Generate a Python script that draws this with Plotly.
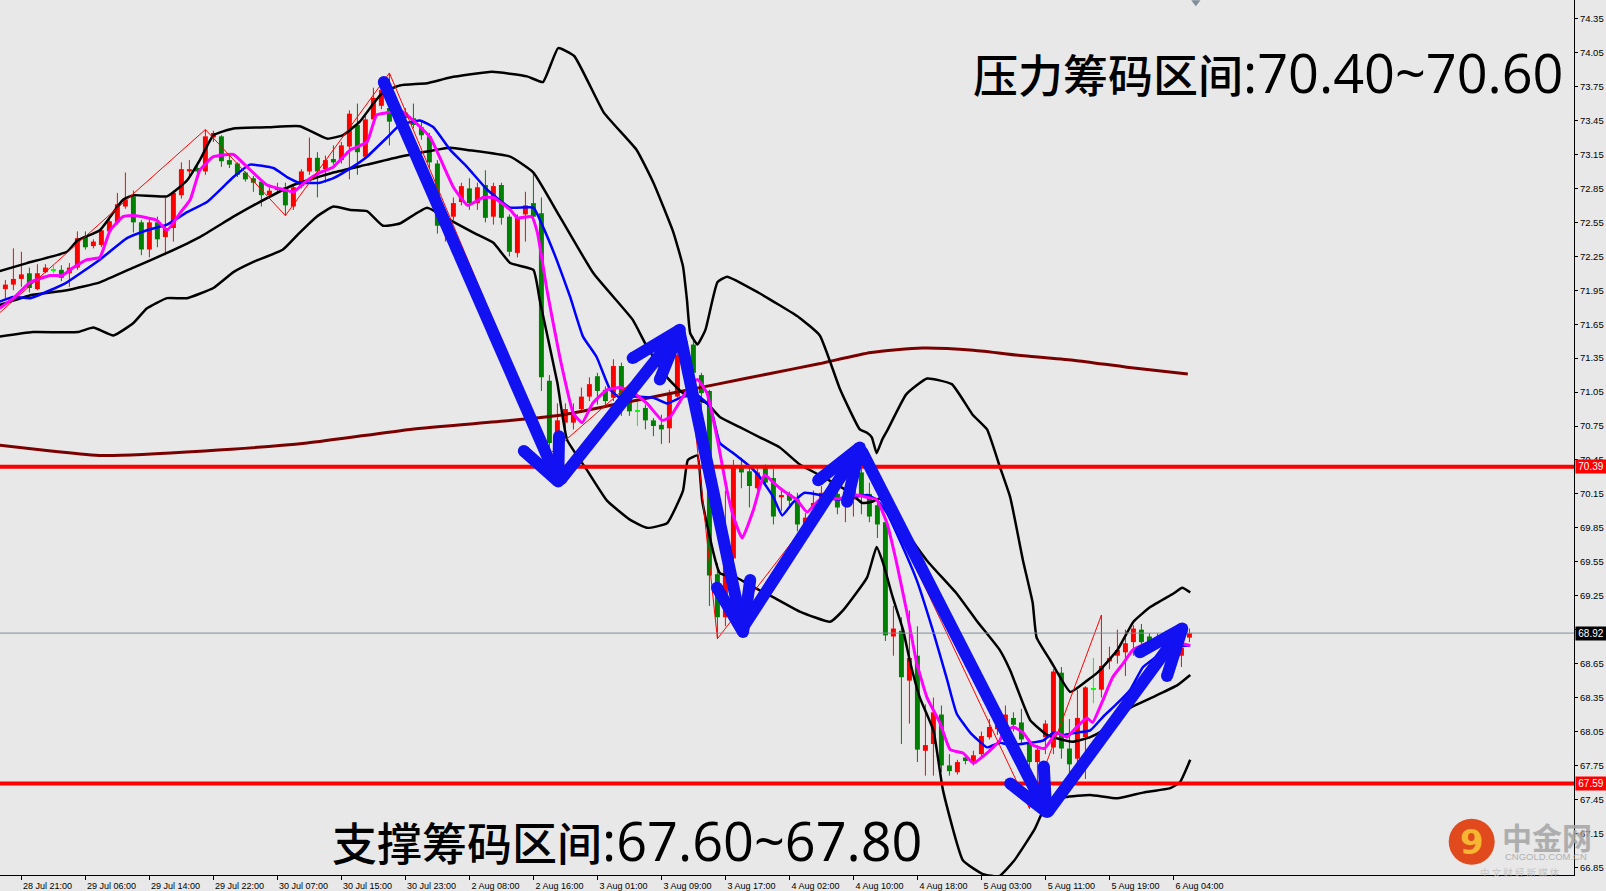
import plotly.graph_objects as go

# H1 bars, index 0 = 28 Jul 19:00 (weekend / daily gaps removed like MT4)
opens = [71.96, 72.00, 72.05, 72.10, 71.96, 72.11, 72.13, 72.13, 72.10, 72.15,
         72.42, 72.34, 72.35, 72.47, 72.55, 72.69, 72.78, 72.55, 72.31, 72.55,
         72.42, 72.50, 72.79, 73.00, 73.03, 73.00, 73.30, 73.31, 73.10, 73.07,
         72.99, 72.94, 72.91, 72.79, 72.84, 72.86, 72.69, 72.87, 73.00, 73.12,
         73.02, 73.11, 73.10, 73.22, 73.41, 73.13, 73.46, 73.58, 73.56, 73.44,
         73.52, 73.47, 73.39, 73.31, 73.07, 72.50, 72.60, 72.73, 72.85, 72.72,
         72.88, 72.60, 72.88, 72.60, 72.28, 72.62, 72.72, 72.63, 71.15, 70.62,
         70.78, 70.78, 70.90, 71.01, 71.19, 71.07, 71.00, 71.28, 70.98, 70.88,
         70.91, 70.80, 70.76, 70.73, 71.01, 71.38, 71.47, 71.20, 71.06, 69.44,
         69.06, 69.58, 70.40, 70.35, 70.20, 70.38, 70.29, 70.12, 70.15, 70.10,
         69.88, 70.02, 70.10, 70.16, 70.15, 70.09, 70.10, 70.34, 70.15, 70.05,
         69.90, 68.89, 68.94, 68.50, 68.72, 67.88, 67.94, 68.20, 67.75, 67.69,
         67.82, 67.79, 67.85, 68.00, 68.07, 68.07, 68.17, 68.13, 67.94, 67.78,
         68.00, 67.91, 68.57, 67.90, 67.81, 68.00, 68.43, 68.42, 68.67, 68.72,
         68.75, 68.84, 68.95, 68.89, 68.84, 68.87, 68.90, 68.72, 68.88]
highs = [72.04, 72.32, 72.29, 72.15, 72.18, 72.18, 72.17, 72.17, 72.19, 72.47,
         72.47, 72.40, 72.50, 72.59, 72.81, 72.99, 72.83, 72.57, 72.58, 72.60,
         72.77, 72.83, 73.08, 73.10, 73.05, 73.37, 73.36, 73.32, 73.14, 73.08,
         73.00, 72.96, 72.93, 72.86, 72.90, 72.90, 72.88, 73.02, 73.30, 73.17,
         73.14, 73.23, 73.26, 73.54, 73.60, 73.49, 73.74, 73.80, 73.87, 73.58,
         73.56, 73.60, 73.45, 73.34, 73.10, 72.62, 72.77, 72.90, 72.94, 72.90,
         73.01, 72.90, 72.90, 72.62, 72.62, 72.82, 72.99, 72.77, 71.20, 70.95,
         70.95, 70.95, 71.09, 71.18, 71.22, 71.10, 71.34, 71.31, 71.00, 70.97,
         70.94, 70.82, 70.85, 71.07, 71.50, 71.55, 71.54, 71.22, 71.07, 69.54,
         70.18, 70.45, 70.47, 70.38, 70.40, 70.41, 70.37, 70.18, 70.17, 70.16,
         69.98, 70.18, 70.22, 70.25, 70.17, 70.16, 70.36, 70.52, 70.25, 70.10,
         69.93, 69.16, 69.06, 69.12, 68.98, 68.29, 68.35, 68.28, 67.85, 67.80,
         67.85, 67.88, 68.05, 68.16, 68.15, 68.28, 68.22, 68.25, 67.98, 67.93,
         68.15, 68.60, 68.62, 68.16, 68.42, 68.45, 68.70, 69.08, 68.80, 68.95,
         68.95, 68.99, 69.00, 68.92, 68.92, 68.94, 68.93, 68.85, 68.96]
lows = [71.88, 71.95, 71.98, 71.93, 71.95, 72.10, 72.10, 72.03, 71.98, 72.13,
        72.31, 72.32, 72.33, 72.45, 72.53, 72.67, 72.46, 72.26, 72.24, 72.33,
        72.26, 72.38, 72.76, 72.96, 72.98, 72.97, 73.26, 73.04, 73.03, 72.95,
        72.91, 72.82, 72.69, 72.76, 72.80, 72.61, 72.66, 72.85, 72.97, 72.77,
        72.90, 73.06, 73.07, 72.93, 72.97, 73.11, 73.44, 73.55, 73.23, 73.38,
        73.40, 73.38, 73.28, 73.02, 72.45, 72.38, 72.57, 72.70, 72.66, 72.66,
        72.55, 72.53, 72.53, 72.25, 72.24, 72.38, 72.55, 71.06, 70.50, 70.55,
        70.70, 70.72, 70.87, 70.97, 70.94, 70.92, 70.97, 70.84, 70.84, 70.75,
        70.72, 70.66, 70.59, 70.60, 71.00, 71.30, 71.16, 70.90, 69.16, 68.87,
        68.98, 69.50, 70.20, 70.03, 70.18, 70.23, 69.88, 70.00, 70.05, 69.82,
        69.85, 69.98, 70.04, 70.08, 69.97, 69.90, 69.95, 69.97, 69.90, 69.76,
        68.85, 68.72, 67.94, 68.12, 67.78, 67.66, 67.66, 67.69, 67.66, 67.67,
        67.76, 67.75, 67.82, 67.98, 68.02, 68.05, 68.05, 67.95, 67.37, 67.55,
        67.85, 67.85, 67.81, 67.54, 67.75, 67.63, 68.30, 68.35, 68.60, 68.65,
        68.54, 68.72, 68.80, 68.80, 68.78, 68.80, 68.70, 68.62, 68.84]
closes = [72.00, 72.05, 72.09, 71.97, 72.10, 72.15, 72.13, 72.06, 72.15, 72.41,
          72.33, 72.38, 72.48, 72.56, 72.71, 72.75, 72.55, 72.31, 72.55, 72.40,
          72.50, 72.81, 73.02, 73.02, 73.00, 73.31, 73.34, 73.09, 73.06, 72.97,
          72.93, 72.90, 72.79, 72.83, 72.85, 72.70, 72.86, 73.00, 73.12, 73.00,
          73.10, 73.08, 73.23, 73.51, 73.17, 73.46, 73.65, 73.72, 73.44, 73.52,
          73.47, 73.41, 73.32, 73.08, 72.52, 72.56, 72.72, 72.87, 72.72, 72.86,
          72.59, 72.87, 72.59, 72.29, 72.59, 72.70, 72.60, 71.18, 70.60, 70.80,
          70.90, 70.85, 71.01, 71.12, 71.06, 70.97, 71.28, 70.94, 70.88, 70.88,
          70.80, 70.75, 70.72, 71.03, 71.38, 71.50, 71.22, 71.04, 69.43, 69.06,
          69.60, 70.40, 70.34, 70.22, 70.34, 70.25, 69.95, 70.14, 70.09, 69.88,
          69.94, 70.07, 70.16, 70.12, 70.03, 70.14, 70.32, 70.13, 69.95, 69.88,
          68.90, 68.96, 68.53, 68.70, 67.89, 67.93, 68.22, 67.75, 67.70, 67.78,
          67.79, 67.84, 68.01, 68.09, 68.13, 68.20, 68.11, 67.98, 67.78, 67.89,
          68.12, 68.58, 67.90, 67.76, 68.17, 68.44, 68.43, 68.63, 68.70, 68.77,
          68.83, 68.96, 68.84, 68.84, 68.87, 68.90, 68.76, 68.79, 68.92]

tick_idx = [2, 10, 18, 26, 34, 42, 50, 58, 66, 74, 82, 90, 98, 106, 114, 122, 130, 138, 146]
tick_text = ['28 Jul 21:00', '29 Jul 06:00', '29 Jul 14:00', '29 Jul 22:00', '30 Jul 07:00',
             '30 Jul 15:00', '30 Jul 23:00', '2 Aug 08:00', '2 Aug 16:00', '3 Aug 01:00',
             '3 Aug 09:00', '3 Aug 17:00', '4 Aug 02:00', '4 Aug 10:00', '4 Aug 18:00',
             '5 Aug 03:00', '5 Aug 11:00', '5 Aug 19:00', '6 Aug 04:00']

# bollinger bands
bb_up_x = [-0.7, 2.7, 7.7, 9.0, 11.8, 14.7, 16.0, 20.2, 22.7, 24.3, 26.0, 28.5, 32.7, 36.8,
           40.2, 42.2, 44.3, 46.0, 47.2, 49.3, 52.7, 55.6, 60.8, 65.2, 67.2, 69.1, 71.1,
           74.8, 78.9, 81.0, 83.5, 84.7, 85.2, 85.6, 86.5, 87.5, 89.0, 90.2, 94.1, 99.2,
           101.8, 104.3, 106.8, 107.7, 108.3, 108.9, 109.6, 110.3, 112.6, 115.2, 118.3,
           120.9, 122.7, 124.3, 125.6, 127.2, 128.4, 128.9, 130.6, 133.1, 135.2, 136.5,
           139.0, 141.0, 143.1, 146.0, 147.1, 148.1]
bb_up_y = [72.12, 72.19, 72.29, 72.39, 72.48, 72.75, 72.79, 72.78, 72.92, 73.10, 73.32, 73.38,
           73.39, 73.40, 73.29, 73.32, 73.44, 73.60, 73.70, 73.76, 73.78, 73.83, 73.88, 73.84,
           73.79, 74.09, 74.02, 73.52, 73.19, 72.90, 72.46, 72.16, 71.86, 71.57, 71.47, 71.60,
           72.02, 72.07, 71.93, 71.71, 71.55, 71.08, 70.72, 70.69, 70.65, 70.51, 70.63, 70.72,
           71.03, 71.17, 71.12, 70.85, 70.72, 70.39, 70.12, 69.56, 69.19, 68.88, 68.68, 68.40,
           68.50, 68.57, 68.77, 69.02, 69.15, 69.27, 69.32, 69.28]
bb_mid_x = [-0.7, 3.4, 7.7, 11.8, 16.0, 20.2, 24.3, 28.5, 31.0, 36.0, 41.0, 45.2, 49.3, 55.6,
            57.7, 63.1, 66.0, 69.3, 73.5, 78.4, 80.2, 82.7, 84.7, 87.7, 89.3, 91.8, 94.3,
            96.8, 99.3, 102.2, 105.6, 107.1, 108.3, 109.3, 111.8, 115.2, 118.9, 121.4, 124.3,
            125.6, 128.1, 130.2, 131.4, 133.4, 135.6, 137.2, 140.6, 143.9, 146.5, 148.1]
bb_mid_y = [71.82, 71.91, 71.95, 72.02, 72.15, 72.28, 72.42, 72.60, 72.70, 72.88, 72.99, 73.06,
            73.13, 73.21, 73.19, 73.13, 72.99, 72.60, 72.10, 71.69, 71.45, 71.18, 71.04, 70.95,
            70.83, 70.74, 70.65, 70.56, 70.41, 70.30, 70.16, 70.07, 70.08, 70.11, 69.89, 69.56,
            69.27, 69.03, 68.77, 68.59, 68.15, 68.02, 67.99, 67.96, 68.00, 68.06, 68.26, 68.37,
            68.46, 68.55]
bb_low_x = [-0.7, 3.4, 9.0, 11.0, 13.5, 16.0, 17.7, 20.2, 22.7, 26.0, 28.5, 31.0, 34.7, 36.8,
            38.9, 41.0, 43.1, 45.2, 47.2, 49.3, 52.7, 55.6, 58.5, 61.0, 63.1, 66.0, 66.8, 69.0,
            70.2, 72.7, 75.2, 78.1, 80.2, 82.7, 84.7, 85.3, 86.5, 87.1, 89.3, 91.4, 93.4, 95.9,
            99.3, 103.1, 104.7, 107.7, 108.9, 109.7, 110.9, 112.2, 113.1, 114.3, 116.0, 117.2,
            119.7, 122.2, 124.2, 126.1, 128.6, 129.9, 132.5, 135.6, 139.0, 142.2, 145.6,
            146.8, 148.1]
bb_low_y = [71.54, 71.58, 71.58, 71.62, 71.55, 71.66, 71.79, 71.88, 71.88, 71.97, 72.11, 72.20,
            72.31, 72.46, 72.60, 72.69, 72.66, 72.65, 72.52, 72.54, 72.68, 72.57, 72.46, 72.37,
            72.19, 72.13, 71.86, 71.13, 70.63, 70.36, 70.09, 69.92, 69.85, 69.89, 70.18, 70.45,
            70.49, 70.09, 69.45, 69.41, 69.33, 69.24, 69.11, 69.02, 69.12, 69.41, 69.68, 69.54,
            69.24, 68.95, 68.66, 68.35, 68.06, 67.53, 66.91, 66.79, 66.77, 66.91, 67.18, 67.37,
            67.47, 67.49, 67.46, 67.51, 67.55, 67.60, 67.80]

# fast MA (magenta) and slower MA (blue)
ma_fast_x = [-0.7, 1.0, 3.1, 5.6, 7.1, 8.5, 10.2, 11.8, 13.1, 14.7, 16.0, 17.7, 18.9, 20.2,
             21.8, 23.1, 24.3, 26.0, 28.5, 30.2, 32.7, 34.7, 36.0, 37.7, 39.3, 41.0, 43.1,
             45.2, 46.4, 47.8, 49.3, 51.0, 53.1, 56.0, 57.8, 59.7, 61.0, 63.1, 64.0, 65.8,
             66.5, 67.7, 69.3, 71.0, 72.1, 73.4, 75.2, 76.8, 78.4, 80.2, 82.1, 83.1, 84.7,
             86.5, 87.7, 89.0, 90.2, 91.0, 92.1, 93.5, 94.3, 94.9, 96.0, 97.2, 98.9, 100.2,
             101.8, 104.3, 106.4, 107.7, 108.9, 110.2, 111.4, 112.7, 113.9, 115.2, 116.8,
             118.1, 119.7, 121.0, 122.7, 124.3, 124.7, 126.0, 127.2, 128.4, 129.9, 131.4,
             132.7, 133.9, 135.2, 135.9, 137.2, 138.4, 139.7, 140.9, 142.7, 144.7, 146.8, 148.1]
ma_fast_y = [71.79, 71.88, 72.02, 72.08, 72.08, 72.15, 72.22, 72.24, 72.48, 72.60, 72.61, 72.59,
             72.57, 72.48, 72.63, 72.75, 73.01, 73.13, 73.15, 73.04, 72.88, 72.84, 72.82, 72.92,
             72.99, 73.04, 73.19, 73.26, 73.50, 73.52, 73.54, 73.45, 73.30, 72.86, 72.70, 72.77,
             72.77, 72.66, 72.59, 72.60, 72.46, 71.95, 71.36, 70.86, 70.78, 70.95, 71.07, 71.09,
             71.05, 70.95, 70.80, 70.83, 71.01, 71.16, 71.04, 70.63, 70.18, 69.95, 69.76, 70.01,
             70.21, 70.32, 70.25, 70.18, 70.10, 69.99, 70.10, 70.11, 70.14, 70.12, 70.10, 69.89,
             69.54, 69.10, 68.66, 68.35, 68.13, 67.89, 67.86, 67.77, 67.86, 67.97, 68.04, 68.09,
             68.04, 67.93, 67.90, 68.04, 68.00, 68.09, 68.17, 68.13, 68.33, 68.53, 68.65, 68.77,
             68.83, 68.86, 68.83, 68.81]
ma_slow_x = [-0.7, 1.0, 3.1, 5.6, 7.7, 11.8, 15.2, 17.7, 20.2, 22.7, 25.2, 28.5, 30.6, 33.5,
             35.2, 36.8, 39.3, 41.0, 43.4, 45.2, 47.7, 49.3, 51.8, 53.5, 55.6, 57.7, 60.2,
             63.1, 66.0, 67.2, 68.9, 70.6, 72.2, 73.9, 75.6, 76.8, 78.4, 81.0, 82.7, 84.7,
             86.5, 88.1, 89.3, 91.0, 93.1, 94.3, 96.0, 97.1, 98.4, 99.9, 101.8, 103.9, 105.9,
             107.7, 108.9, 110.2, 111.8, 113.9, 115.9, 117.7, 118.9, 120.6, 122.7, 124.3,
             125.6, 128.1, 129.7, 131.0, 132.2, 133.9, 135.6, 137.2, 139.0, 140.6, 142.2,
             143.9, 146.5, 148.1]
ma_slow_y = [71.85, 71.89, 71.88, 71.95, 72.02, 72.22, 72.41, 72.48, 72.53, 72.64, 72.73, 72.95,
             73.06, 73.03, 72.95, 72.90, 72.90, 72.94, 73.04, 73.13, 73.30, 73.41, 73.45, 73.39,
             73.19, 73.04, 72.84, 72.68, 72.68, 72.51, 72.22, 71.89, 71.54, 71.36, 71.07, 71.00,
             71.01, 71.00, 70.95, 71.01, 71.02, 70.92, 70.60, 70.51, 70.39, 70.30, 70.12, 69.96,
             70.07, 70.16, 70.14, 70.10, 70.12, 70.14, 70.10, 69.98, 69.74, 69.39, 68.95, 68.51,
             68.21, 68.04, 67.91, 67.95, 67.93, 67.95, 67.97, 68.04, 68.02, 68.04, 68.06, 68.18,
             68.30, 68.42, 68.62, 68.71, 68.80, 68.81]
# long MA (dark red)
ma_long_x = [-0.7, 5.7, 12.1, 24.9, 37.7, 50.6, 63.3, 69.7, 76.2, 82.6, 89.0, 95.3, 101.7,
             108.2, 114.6, 121.0, 127.3, 133.7, 140.2, 147.8]
ma_long_y = [70.58, 70.53, 70.49, 70.53, 70.60, 70.72, 70.80, 70.85, 70.94, 71.03, 71.12, 71.21,
             71.30, 71.40, 71.44, 71.42, 71.37, 71.33, 71.27, 71.21]

# zigzag swing points
zz_x = [-2, 25, 35, 48, 68, 85, 89, 107, 128, 137]
zz_y = [71.67, 73.37, 72.61, 73.87, 70.50, 71.55, 68.87, 70.52, 67.37, 69.08]

# hand drawn arrows: tail, tip, two head ends
arrows = [
    ((47.3, 73.79), (69.1, 70.26), (64.8, 70.53), (69.2, 70.66)),
    ((69.45, 70.28), (84.3, 71.60), (78.4, 71.35), (81.8, 71.16)),
    ((84.3, 71.57), (92.2, 68.93), (88.95, 69.32), (93.1, 69.39)),
    ((92.1, 68.96), (106.8, 70.56), (101.6, 70.27), (105.2, 70.08)),
    ((107.1, 70.52), (130.1, 67.34), (125.6, 67.59), (129.8, 67.74)),
    ((130.3, 67.34), (147.1, 68.96), (141.8, 68.75), (145.2, 68.54)),
]

resist_level = 70.39
support_level = 67.59
bid_price = 68.92
y_ticks = [66.85, 67.15, 67.45, 67.75, 68.05, 68.35, 68.65, 68.95, 69.25, 69.55, 69.85,
           70.15, 70.45, 70.75, 71.05, 71.35, 71.65, 71.95, 72.25, 72.55, 72.85, 73.15,
           73.45, 73.75, 74.05, 74.35]
x_range = [-0.675, 196.07]
y_range = [66.782, 74.515]
shift_marker_x = 148.8

resist_text = ('压力筹码区间', ':70.40~70.60')
support_text = ('支撑筹码区间', ':67.60~67.80')

bg = '#e8e8e8'
up_color = '#ff0000'
down_color = '#008000'
doji_color = '#00ff00'

fig = go.Figure()

n = len(closes)
groups = {'up': [], 'down': [], 'doji': []}
for i in range(n):
    if closes[i] > opens[i]:
        groups['up'].append(i)
    elif closes[i] < opens[i]:
        groups['down'].append(i)
    else:
        groups['doji'].append(i)

for key, color in [('up', up_color), ('down', down_color), ('doji', doji_color)]:
    idx = groups[key]
    wx, wy = [], []
    for i in idx:
        wx += [i, i, None]
        wy += [lows[i], highs[i], None]
    fig.add_trace(go.Scatter(x=wx, y=wy, mode='lines', line=dict(color=color, width=1),
                             hoverinfo='skip', showlegend=False))
    fig.add_trace(go.Bar(
        x=idx,
        y=[max(abs(closes[i] - opens[i]), 0.009) for i in idx],
        base=[min(opens[i], closes[i]) - (0.0045 if key == 'doji' else 0) for i in idx],
        width=0.62,
        marker=dict(color=color, line=dict(width=0)),
        showlegend=False,
    ))

fig.add_trace(go.Scatter(x=ma_long_x, y=ma_long_y, mode='lines',
                         line=dict(color='#7a0000', width=3, shape='spline', smoothing=0.6),
                         showlegend=False))
for bx, by in [(bb_up_x, bb_up_y), (bb_mid_x, bb_mid_y), (bb_low_x, bb_low_y)]:
    fig.add_trace(go.Scatter(x=bx, y=by, mode='lines',
                             line=dict(color='black', width=2.5, shape='spline', smoothing=0.4),
                             showlegend=False))
fig.add_trace(go.Scatter(x=ma_slow_x, y=ma_slow_y, mode='lines',
                         line=dict(color='#0000ff', width=2.5, shape='spline', smoothing=0.4),
                         showlegend=False))
fig.add_trace(go.Scatter(x=ma_fast_x, y=ma_fast_y, mode='lines',
                         line=dict(color='#ff00ff', width=3, shape='spline', smoothing=0.4),
                         showlegend=False))
fig.add_trace(go.Scatter(x=zz_x, y=zz_y, mode='lines', line=dict(color='#ff0000', width=1),
                         showlegend=False))

# horizontal levels
for level, color, w in [(bid_price, '#7f8c99', 1), (resist_level, '#ff0000', 4),
                        (support_level, '#ff0000', 4)]:
    fig.add_trace(go.Scatter(x=x_range, y=[level, level], mode='lines',
                             line=dict(color=color, width=w), showlegend=False))

arrow_color = '#1111f2'
for tail, tip, a1, a2 in arrows:
    fig.add_trace(go.Scatter(
        x=[tail[0], tip[0], None, a1[0], tip[0], a2[0]],
        y=[tail[1], tip[1], None, a1[1], tip[1], a2[1]],
        mode='lines', line=dict(color=arrow_color, width=12),
        showlegend=False))
    fig.add_trace(go.Scatter(
        x=[tail[0], a1[0], a2[0], tip[0]], y=[tail[1], a1[1], a2[1], tip[1]],
        mode='markers', marker=dict(color=arrow_color, size=12, line=dict(width=0)),
        showlegend=False))

fig.add_trace(go.Scatter(x=[shift_marker_x], y=[y_range[1] - 0.02], mode='markers',
                         marker=dict(symbol='triangle-down', size=8, color='#7f8c99'),
                         cliponaxis=False, showlegend=False))

latin = '<span style="font-family:\'Open Sans\';font-size:54px">'
for (cjk, num), x, y, xa in [(resist_text, 0.9943, 0.918, 'right'),
                             (support_text, 0.2097, 0.04, 'left')]:
    fig.add_annotation(xref='paper', yref='paper', x=x, y=y, xanchor=xa, yanchor='middle',
                       text=cjk + latin + num + '</span>', showarrow=False,
                       font=dict(family='Noto Sans CJK SC', size=45, color='black', weight=500))

for level, color in [(resist_level, '#ff0000'), (bid_price, '#000000'), (support_level, '#ff0000')]:
    fig.add_annotation(xref='paper', yref='y', x=1, y=level, xanchor='left', yanchor='middle',
                       xshift=1, text=f'{level:.2f}', showarrow=False, bgcolor=color,
                       width=28, height=11, borderpad=1,
                       font=dict(family='Liberation Sans', size=10, color='white'))

# watermark logo
fig.add_shape(type='circle', xref='paper', yref='paper', xsizemode='pixel', ysizemode='pixel',
              xanchor=0.935, yanchor=0.038, x0=-23, x1=23, y0=-23, y1=23,
              fillcolor='#e04a1c', line=dict(width=0), layer='above')
fig.add_annotation(xref='paper', yref='paper', x=0.935, y=0.038, xanchor='center',
                   yanchor='middle', text='<b>9</b>', showarrow=False,
                   font=dict(family='DejaVu Sans', size=34, color='#f6b533'))
fig.add_annotation(xref='paper', yref='paper', x=0.983, y=0.0445, xanchor='center',
                   yanchor='middle', text='<b>中金网</b>', showarrow=False, opacity=0.85,
                   font=dict(family='Noto Sans CJK SC', size=30, color='#a5a5a5'))
fig.add_annotation(xref='paper', yref='paper', x=0.982, y=0.0215, xanchor='center',
                   yanchor='middle', text='CNGOLD.COM.CN', showarrow=False, opacity=0.85,
                   font=dict(family='Liberation Sans', size=9.5, color='#a8a8a8'))
fig.add_annotation(xref='paper', yref='paper', x=0.966, y=0.004, xanchor='center',
                   yanchor='middle', text='中 文 财 经 新 媒 体', showarrow=False, opacity=0.8,
                   font=dict(family='Noto Sans CJK SC', size=9.5, color='#bdbdbd'))

fig.update_layout(
    width=1606, height=891,
    paper_bgcolor=bg, plot_bgcolor=bg,
    margin=dict(l=0, r=32, t=0, b=16, autoexpand=False),
    barmode='overlay',
    showlegend=False,
    xaxis=dict(range=x_range, showgrid=False, zeroline=False, showline=True, linecolor='black',
               linewidth=1, ticks='outside', ticklen=4, tickcolor='black',
               tickvals=tick_idx, ticktext=tick_text, ticklabelshift=26,
               ticklabelstandoff=-2, automargin=False,
               tickfont=dict(family='Liberation Sans', size=9, color='black')),
    yaxis=dict(range=y_range, side='right', showgrid=False, zeroline=False, showline=True,
               linecolor='black', linewidth=1, ticks='outside', ticklen=3, tickcolor='black',
               tickvals=y_ticks, ticktext=[f'{v:.2f}' for v in y_ticks], automargin=False,
               tickfont=dict(family='Liberation Sans', size=9.5, color='black')),
)

fig.write_html("out.html", config={'displayModeBar': False},
               post_script="document.body.style.margin='0px';")
